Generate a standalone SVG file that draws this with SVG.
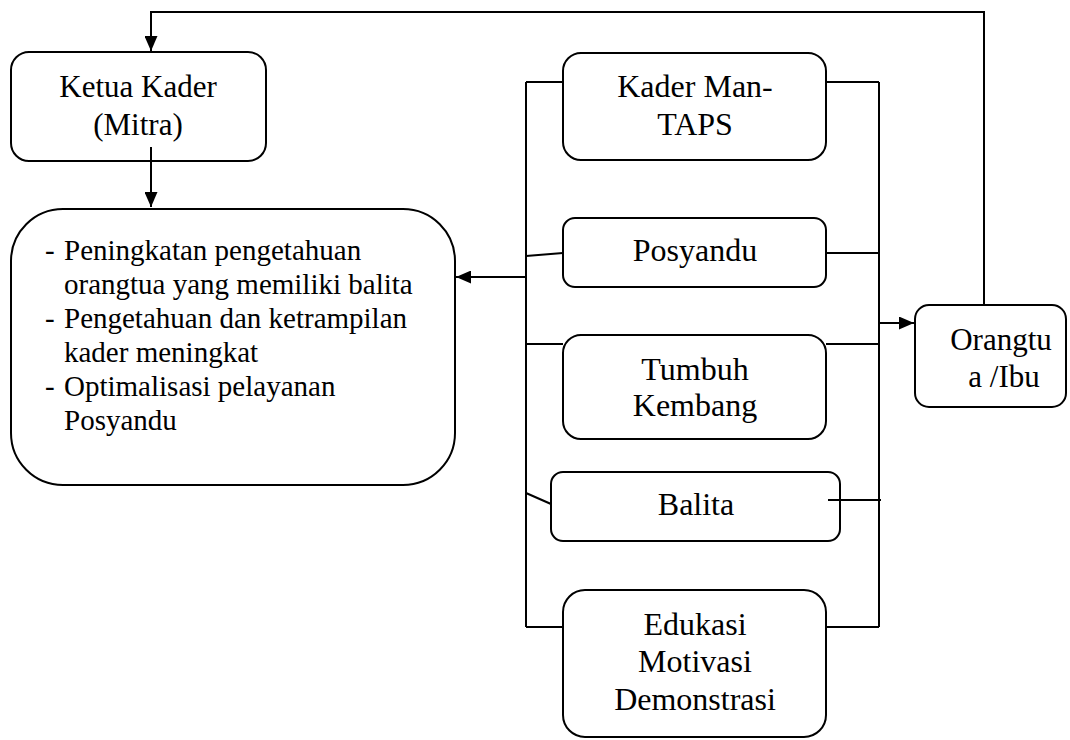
<svg xmlns="http://www.w3.org/2000/svg" width="1070" height="740" viewBox="0 0 1070 740">
<style>
.box{fill:#fff;stroke:#000;stroke-width:2}
.ln{fill:none;stroke:#000;stroke-width:2}
.t{font-family:'Liberation Serif','Times New Roman',serif;fill:#000}
.c{text-anchor:middle;font-size:31px}
.m{text-anchor:middle;font-size:32px}
.b{font-size:29px}
</style>
<defs>
<marker id="ah" viewBox="0 0 15 13" refX="15" refY="6.5" markerWidth="7.5" markerHeight="6.5" markerUnits="strokeWidth" orient="auto">
<path d="M0,0 L15,6.5 L0,13 z" fill="#000"/>
</marker>
</defs>
<g id="ketua">
<rect class="box" x="11" y="52" width="255" height="109" rx="18"/>
<text class="t c" x="138" y="97">Ketua Kader</text>
<text class="t c" x="138" y="135">(Mitra)</text>
</g>
<g id="hasil">
<rect class="box" x="11" y="209" width="444" height="276" rx="52"/>
<text class="t b" x="45" y="260">-</text><text class="t b" x="64" y="260">Peningkatan pengetahuan</text>
<text class="t b" x="64" y="294">orangtua yang memiliki balita</text>
<text class="t b" x="45" y="328">-</text><text class="t b" x="64" y="328">Pengetahuan dan ketrampilan</text>
<text class="t b" x="64" y="362">kader meningkat</text>
<text class="t b" x="45" y="396">-</text><text class="t b" x="64" y="396">Optimalisasi pelayanan</text>
<text class="t b" x="64" y="430">Posyandu</text>
</g>
<g id="kader">
<rect class="box" x="563" y="53" width="263" height="107" rx="18"/>
<text class="t m" x="695" y="97">Kader Man-</text>
<text class="t m" x="695" y="135">TAPS</text>
</g>
<g id="posyandu">
<rect class="box" x="563" y="218" width="263" height="69" rx="12"/>
<text class="t m" x="695" y="261">Posyandu</text>
</g>
<g id="tumbuh">
<rect class="box" x="563" y="335" width="263" height="104" rx="18"/>
<text class="t m" x="695" y="380">Tumbuh</text>
<text class="t m" x="695" y="416">Kembang</text>
</g>
<g id="balita">
<rect class="box" x="551" y="472" width="289" height="69" rx="12"/>
<text class="t m" x="696" y="515">Balita</text>
</g>
<g id="edukasi">
<rect class="box" x="563" y="590" width="263" height="147" rx="22"/>
<text class="t m" x="695" y="635">Edukasi</text>
<text class="t m" x="695" y="672">Motivasi</text>
<text class="t m" x="695" y="710">Demonstrasi</text>
</g>
<g id="orangtua">
<rect class="box" x="915" y="305" width="151" height="102" rx="14"/>
<text class="t c" x="1001" y="350">Orangtu</text>
<text class="t c" x="1004" y="387">a /Ibu</text>
</g>
<g id="connectors">
<path class="ln" d="M984,305 V12 H151 V51" marker-end="url(#ah)"/>
<path class="ln" d="M151,147 V207" marker-end="url(#ah)"/>
<path class="ln" d="M526,277 H456" marker-end="url(#ah)"/>
<path class="ln" d="M879,323 H914" marker-end="url(#ah)"/>
<path class="ln" d="M526,82 V627"/>
<path class="ln" d="M879,82 V627"/>
<path class="ln" d="M526,82 H563 M826,82 H879"/>
<path class="ln" d="M526,256 L563,253 M826,253 H879"/>
<path class="ln" d="M526,344 H563 M826,344 H879"/>
<path class="ln" d="M526,493 L551,504 M828,500 H881"/>
<path class="ln" d="M526,627 H563 M826,627 H879"/>
</g>
</svg>
